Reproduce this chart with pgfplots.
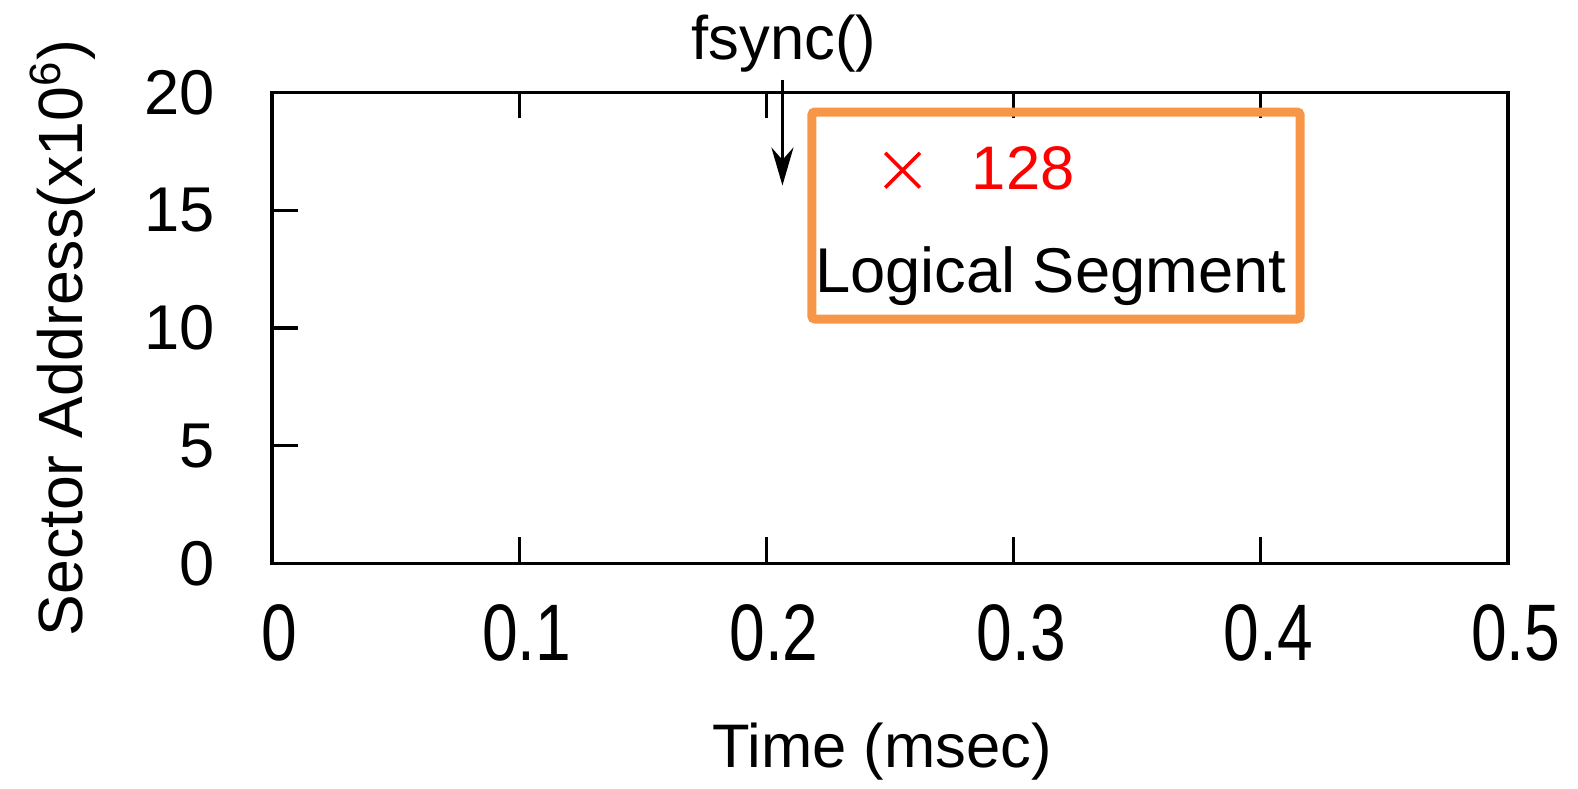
\documentclass[border=0pt]{standalone}
\usepackage{fontspec}
\setmainfont{Liberation Sans}
\usepackage{pgfplots}
\pgfplotsset{compat=1.18}
\usetikzlibrary{arrows.meta}
\definecolor{boxorange}{HTML}{F79646}

\begin{document}
\begin{tikzpicture}
\begin{axis}[
  scale only axis, width=123.6mm, height=47.1mm,
  xmin=0, xmax=0.5, ymin=0, ymax=20, clip=false,
  xtick={0,0.1,...,0.5}, ytick={0,5,...,20},
  xticklabels={0,0.1,0.2,0.3,0.4,0.5},
  xtick pos=both, ytick pos=left, tick align=inside,
  major tick length=2.6mm,
  axis line style={line width=0.9pt}, tick style={line width=0.9pt, black},
  /pgf/number format/assume math mode=true,
  x tick label style={font=\fontsize{19}{22}\selectfont, xscale=0.96, yscale=1.2, yshift=-2.2mm, xshift=0.8mm},
  y tick label style={font=\fontsize{18}{21}\selectfont, xshift=-4.5mm},
  xlabel={Time (msec)}, ylabel={Sector Address(x10\textsuperscript{6})},
  label style={font=\fontsize{17.8}{20}\selectfont},
  xlabel style={font=\fontsize{17.5}{20}\selectfont, at={(axis description cs:0.4935,-0.4)}, anchor=center},
  ylabel style={yshift=2.5mm, xshift=-1mm},
  legend style={at={(axis cs:0.2478,16.7)}, anchor=west, draw=none, fill=none,
    inner sep=0pt, font=\fontsize{17.5}{20}\selectfont, text=red,
    /tikz/every odd column/.append style={column sep=4.5mm}},
  legend cell align=left,
]
% the series of this run has no points in the window
\addlegendimage{only marks, mark=x, red, mark size=2.45mm, line width=0.35mm}
\addlegendentry{128}
\draw[boxorange, line width=0.9mm, rounded corners=0.3mm]
  (axis cs:0.2184,10.38) rectangle (axis cs:0.4159,19.17);
\node[font=\fontsize{18}{20}\selectfont] at (axis cs:0.3150,12.2) {Logical Segment};
\draw[line width=0.9pt, -{Stealth[length=3.8mm, width=2.2mm]}]
  (axis cs:0.2065,20.55) -- (axis cs:0.2065,16.05);
\node[font=\fontsize{17.5}{20}\selectfont, anchor=base, inner sep=0pt] at (axis cs:0.2071,21.4) {fsync()};
\end{axis}
\pgfresetboundingbox
\path[use as bounding box] (current axis.south west) ++(-27.2mm,-22.55mm) rectangle ++(157.8mm,78.9mm);
\end{tikzpicture}
\end{document}
